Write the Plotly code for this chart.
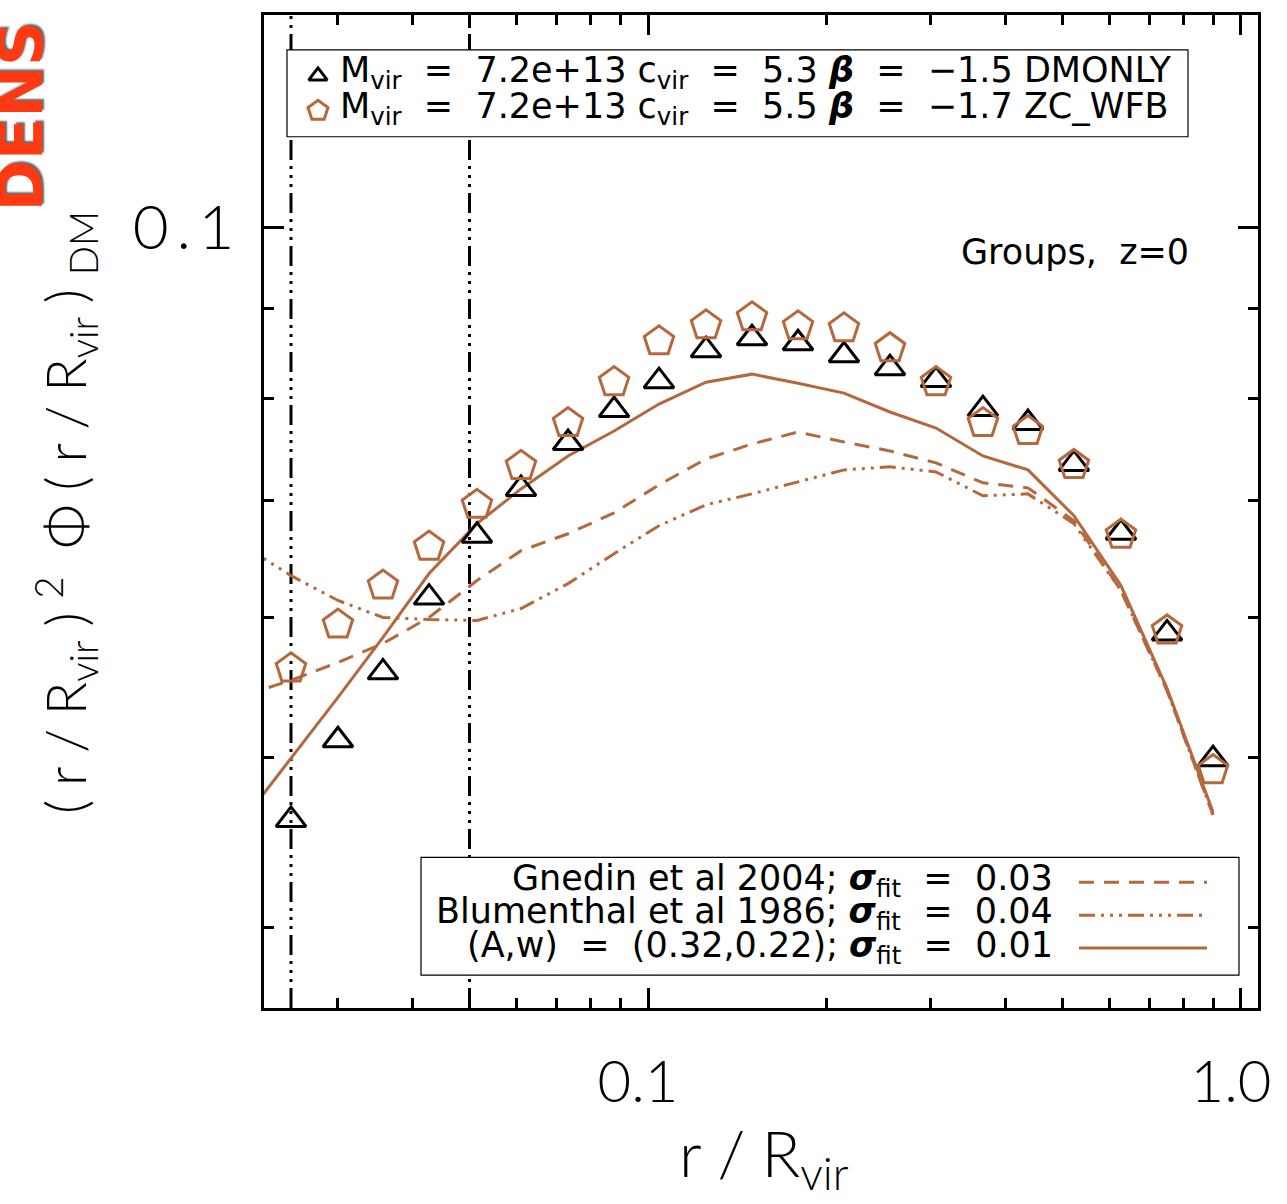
import plotly.graph_objects as go

# ---------------- data ----------------
r_pts = [0.02500, 0.03000, 0.03573, 0.04273, 0.05147, 0.06107, 0.07331, 0.08766,
         0.10435, 0.12527, 0.14976, 0.17906, 0.21403, 0.25588, 0.30597, 0.36717,
         0.43725, 0.52272, 0.62748, 0.75036, 0.89710]

dmonly = [0.04606, 0.05112, 0.05587, 0.06161, 0.06681, 0.07103, 0.07543, 0.07875,
          0.08179, 0.08517, 0.08651, 0.08595, 0.08461, 0.08319, 0.08190, 0.07885,
          0.07743, 0.07339, 0.06707, 0.05879, 0.04987]

zc_wfb = [0.05616, 0.05948, 0.06259, 0.06586, 0.06957, 0.07320, 0.07743, 0.08168,
          0.08617, 0.08799, 0.08892, 0.08788, 0.08765, 0.08539, 0.08168, 0.07743,
          0.07662, 0.07329, 0.06690, 0.05902, 0.04916]

r_fit = [0.02091] + r_pts

gnedin = [0.05422, 0.05529, 0.05660, 0.05802, 0.06003, 0.06300, 0.06551, 0.06698,
          0.06884, 0.07141, 0.07387, 0.07533, 0.07652, 0.07553, 0.07465, 0.07349,
          0.07160, 0.07113, 0.06813, 0.06218, 0.05457, 0.04636]

blumenthal = [0.06586, 0.06341, 0.06138, 0.06003, 0.05987, 0.05979, 0.06074, 0.06275,
              0.06526, 0.06769, 0.06957, 0.07057, 0.07169, 0.07282, 0.07311, 0.07263,
              0.07039, 0.07057, 0.06787, 0.06218, 0.05457, 0.04636]

aw_fit = [0.04618, 0.04994, 0.05407, 0.05848, 0.06358, 0.06787, 0.07103, 0.07416,
          0.07662, 0.07937, 0.08168, 0.08254, 0.08157, 0.08052, 0.07855, 0.07692,
          0.07416, 0.07282, 0.06858, 0.06259, 0.05471, 0.04654]

vlines_r = [0.025, 0.05]

x_major = [0.1, 1.0]
x_major_text = ["0.1", "1.0"]
x_minor = [0.03, 0.04, 0.05, 0.06, 0.07, 0.08, 0.09, 0.2, 0.3, 0.4, 0.5, 0.6, 0.7, 0.8, 0.9]
y_major = [0.1]
y_major_text = ["0\u2009.\u20091"]
y_minor = [0.04, 0.05, 0.06, 0.07, 0.08, 0.09]

# ---------------- style ----------------
BROWN = "#B5683C"
LEG_FONT = "DejaVu Sans, Liberation Sans, sans-serif"
THIN_FONT = "Lato, Roboto, sans-serif"

W, H = 1287, 1204
L, R, T, B = 264, 29, 13, 196
PW, PH = W - L - R, H - T - B


def px(x):
    return (x - L) / PW


def py(y):
    return (H - B - y) / PH


fig = go.Figure()

fig.add_trace(go.Scatter(x=r_fit, y=gnedin, mode="lines",
                         line=dict(color=BROWN, width=3, dash="15px,10px"),
                         showlegend=False, hoverinfo="skip"))
fig.add_trace(go.Scatter(x=r_fit, y=blumenthal, mode="lines",
                         line=dict(color=BROWN, width=3,
                                   dash="16px,6px,3px,6px,3px,6px,3px,6px"),
                         showlegend=False, hoverinfo="skip"))
fig.add_trace(go.Scatter(x=r_fit, y=aw_fit, mode="lines",
                         line=dict(color=BROWN, width=3),
                         showlegend=False, hoverinfo="skip"))
fig.add_trace(go.Scatter(x=r_pts, y=dmonly, mode="markers",
                         marker=dict(symbol="triangle-up-open", size=26, color="black",
                                     line=dict(width=3, color="black")),
                         showlegend=False))
fig.add_trace(go.Scatter(x=r_pts, y=zc_wfb, mode="markers",
                         marker=dict(symbol="pentagon-open", size=31, color=BROWN,
                                     line=dict(width=3, color=BROWN)),
                         showlegend=False))

# legend glyphs on an overlay paper-like axis
fig.add_trace(go.Scatter(x=[px(318)], y=[py(74)], mode="markers", xaxis="x2", yaxis="y2",
                         marker=dict(symbol="triangle-up-open", size=16, color="black",
                                     line=dict(width=3, color="black")),
                         showlegend=False, hoverinfo="skip", cliponaxis=False))
fig.add_trace(go.Scatter(x=[px(318)], y=[py(109)], mode="markers", xaxis="x2", yaxis="y2",
                         marker=dict(symbol="pentagon-open", size=21, color=BROWN,
                                     line=dict(width=3, color=BROWN)),
                         showlegend=False, hoverinfo="skip", cliponaxis=False))

shapes = []
for xv in vlines_r:
    shapes.append(dict(type="line", xref="x", yref="paper", x0=xv, x1=xv, y0=0, y1=1,
                       line=dict(color="black", width=3,
                                 dash="20px,6px,3px,6px,3px,6px,3px,6px"),
                       layer="below"))
# legend boxes
shapes.append(dict(type="rect", xref="paper", yref="paper",
                   x0=px(287), x1=px(1188), y0=py(135), y1=py(48),
                   line=dict(color="black", width=1.2), fillcolor="white", layer="below"))
shapes.append(dict(type="rect", xref="paper", yref="paper",
                   x0=px(421), x1=px(1239), y0=py(975), y1=py(857),
                   line=dict(color="black", width=1.2), fillcolor="white", layer="below"))
# legend line samples
for yy, dash in [(882, "15px,10px"), (915, "16px,6px,3px,6px,3px,6px,3px,6px"), (948, "solid")]:
    shapes.append(dict(type="line", xref="paper", yref="paper",
                       x0=px(1079), x1=px(1207), y0=py(yy), y1=py(yy),
                       line=dict(color=BROWN, width=3, dash=dash), layer="above"))

sp = "\u00a0"
beta = "<b><i>β</i></b>"
sig = "<b><i>σ</i></b><sub>fit</sub>"
top_lines = [
    f"M<sub>vir</sub>{sp*2}={sp*2}7.2e+13 c<sub>vir</sub>{sp*2}={sp*2}5.3 {beta}{sp*2}={sp*2}−1.5 DMONLY",
    f"M<sub>vir</sub>{sp*2}={sp*2}7.2e+13 c<sub>vir</sub>{sp*2}={sp*2}5.5 {beta}{sp*2}={sp*2}−1.7 ZC_WFB",
]
bot_lines = [
    f"Gnedin et al 2004; {sig}{sp*2}={sp*2}0.03",
    f"Blumenthal et al 1986; {sig}{sp*2}={sp*2}0.04",
    f"(A,w){sp*2}={sp*2}(0.32,0.22); {sig}{sp*2}={sp*2}0.01",
]

ann = []
for txt, yy in zip(top_lines, [71, 107]):
    ann.append(dict(xref="paper", yref="paper", x=px(338), y=py(yy), text=txt,
                    xanchor="left", yanchor="middle", showarrow=False,
                    font=dict(family=LEG_FONT, size=35, color="black")))
for txt, yy in zip(bot_lines, [880, 913, 947]):
    ann.append(dict(xref="paper", yref="paper", x=px(1055), y=py(yy), text=txt,
                    xanchor="right", yanchor="middle", showarrow=False,
                    font=dict(family=LEG_FONT, size=35, color="black")))
ann.append(dict(xref="paper", yref="paper", x=px(1191), y=py(250), text="Groups,  z=0",
                xanchor="right", yanchor="middle", showarrow=False,
                font=dict(family=LEG_FONT, size=35, color="black")))
# axis titles
g = "\u2005"
ann.append(dict(xref="paper", yref="paper", x=px(764), y=py(1112),
                text=f"r{g}/{g}R<sub>vir</sub>", xanchor="center", yanchor="top",
                showarrow=False,
                font=dict(family=THIN_FONT, size=64, color="black", weight=300)))
ytitle = (f"({g}r{g}/{g}R<sub>vir</sub>{g}){g}<sup>2</sup>{g}{g}"
          f"Φ{g}({g}r{g}/{g}R<sub>vir</sub>{g}){g}<sub>DM</sub>")
ann.append(dict(xref="paper", yref="paper", x=px(66), y=py(512), textangle=-90,
                text=ytitle, xanchor="center", yanchor="middle", showarrow=False,
                font=dict(family=THIN_FONT, size=55, color="black", weight=300)))
# red watermark text
ann.append(dict(xref="paper", yref="paper", x=px(21), y=py(212), textangle=-90,
                text="<b>DENS</b>", xanchor="center", yanchor="bottom", showarrow=False,
                font=dict(family="DejaVu Sans, Liberation Sans, sans-serif", size=62,
                          color="#FF3A12", shadow="2px 2px 2px #666")))

axis_common = dict(showline=True, linewidth=3, linecolor="black", mirror="allticks",
                   ticks="inside", ticklen=20, tickwidth=2.5, tickcolor="black",
                   showgrid=False, zeroline=False)

fig.update_layout(
    width=W, height=H, autosize=False,
    margin=dict(l=L, r=R, t=T, b=B, pad=0),
    paper_bgcolor="white", plot_bgcolor="white",
    xaxis=dict(type="log", range=[-1.6476, 0.0287], tickmode="array",
               tickvals=x_major, ticktext=x_major_text,
               tickfont=dict(family=THIN_FONT, size=58, color="black", weight=300),
               ticklabelstandoff=21, ticklabelshift=-10,
               minor=dict(tickvals=x_minor, ticks="inside", ticklen=10, tickwidth=2.5,
                          tickcolor="black", showgrid=False),
               **axis_common),
    yaxis=dict(type="log", range=[-1.4436, -0.8792], tickmode="array",
               tickvals=y_major, ticktext=y_major_text,
               tickfont=dict(family=THIN_FONT, size=62, color="black", weight=300),
               ticklabelstandoff=14,
               minor=dict(tickvals=y_minor, ticks="inside", ticklen=10, tickwidth=2.5,
                          tickcolor="black", showgrid=False),
               **axis_common),
    xaxis2=dict(overlaying="x", range=[0, 1], visible=False, fixedrange=True),
    yaxis2=dict(overlaying="y", range=[0, 1], visible=False, fixedrange=True),
    shapes=shapes,
    annotations=ann,
    showlegend=False,
)

fig.write_html("out.html")
